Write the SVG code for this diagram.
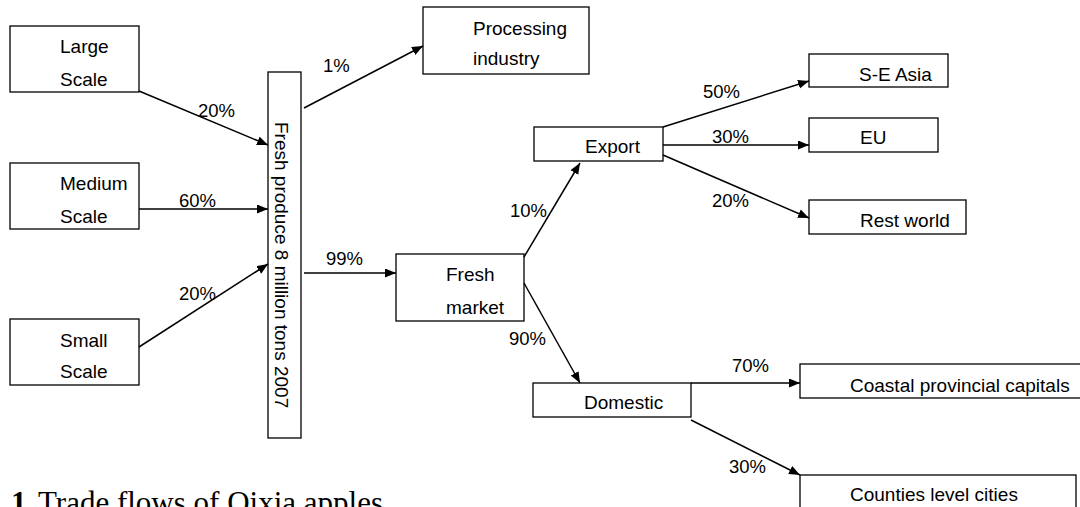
<svg xmlns="http://www.w3.org/2000/svg" width="1080" height="507" viewBox="0 0 1080 507">
<style>
  .box { fill: #fff; stroke: #000; stroke-width: 1.3; }
  .t { font-family: "Liberation Sans", Arial, sans-serif; font-size: 19px; fill: #000; }
  .lbl { font-family: "Liberation Sans", Arial, sans-serif; font-size: 18.5px; fill: #000; }
  .edge { stroke: #000; stroke-width: 1.5; fill: none; marker-end: url(#ah); }
  .cap { font-family: "Liberation Serif", "Times New Roman", serif; font-size: 31px; fill: #000; }
</style>
<defs>
  <marker id="ah" markerUnits="userSpaceOnUse" markerWidth="12" markerHeight="10" refX="11" refY="4.5" orient="auto">
    <path d="M0,0 L11,4.5 L0,9 z" fill="#000"/>
  </marker>
</defs>
<rect width="1080" height="507" fill="#fff"/>

<g id="large">
  <rect class="box" x="10" y="26" width="129" height="66"/>
  <text class="t" x="60" y="53">Large</text>
  <text class="t" x="60" y="86">Scale</text>
</g>
<g id="medium">
  <rect class="box" x="10" y="163" width="129" height="66"/>
  <text class="t" x="60" y="190">Medium</text>
  <text class="t" x="60" y="223">Scale</text>
</g>
<g id="small">
  <rect class="box" x="10" y="319" width="129" height="66"/>
  <text class="t" x="60" y="347">Small</text>
  <text class="t" x="60" y="378">Scale</text>
</g>
<g id="fresh-produce">
  <rect class="box" x="268" y="72" width="33" height="366"/>
  <text class="t" transform="translate(275,122) rotate(90)">Fresh produce 8 million tons 2007</text>
</g>
<g id="processing">
  <rect class="box" x="423" y="7" width="166" height="67"/>
  <text class="t" x="473" y="35">Processing</text>
  <text class="t" x="473" y="65">industry</text>
</g>
<g id="fresh-market">
  <rect class="box" x="396" y="254" width="128" height="67"/>
  <text class="t" x="446" y="281">Fresh</text>
  <text class="t" x="446" y="314">market</text>
</g>
<g id="export">
  <rect class="box" x="534" y="127" width="129" height="34"/>
  <text class="t" x="585" y="153">Export</text>
</g>
<g id="se-asia">
  <rect class="box" x="809" y="54" width="139" height="33"/>
  <text class="t" x="859" y="80.5">S-E Asia</text>
</g>
<g id="eu">
  <rect class="box" x="809" y="118" width="129" height="34"/>
  <text class="t" x="860" y="144">EU</text>
</g>
<g id="rest-world">
  <rect class="box" x="809" y="200" width="157" height="34"/>
  <text class="t" x="860" y="227">Rest world</text>
</g>
<g id="domestic">
  <rect class="box" x="533" y="383" width="158" height="34"/>
  <text class="t" x="584" y="409">Domestic</text>
</g>
<g id="coastal">
  <rect class="box" x="800" y="364" width="290" height="34"/>
  <text class="t" x="850" y="391.5">Coastal provincial capitals</text>
</g>
<g id="counties">
  <rect class="box" x="800" y="475" width="276" height="40"/>
  <text class="t" x="850" y="501">Counties level cities</text>
</g>

<g id="connectors">
  <line class="edge" x1="139" y1="91" x2="268" y2="145"/>
  <line class="edge" x1="139" y1="209" x2="268" y2="209"/>
  <line class="edge" x1="139" y1="347" x2="268" y2="264"/>
  <line class="edge" x1="304" y1="108" x2="423" y2="46"/>
  <line class="edge" x1="304" y1="273" x2="396" y2="273"/>
  <line class="edge" x1="524" y1="257" x2="580" y2="163"/>
  <line class="edge" x1="524" y1="283" x2="580" y2="383"/>
  <line class="edge" x1="663" y1="127" x2="809" y2="81"/>
  <line class="edge" x1="663" y1="145" x2="809" y2="145"/>
  <line class="edge" x1="663" y1="155" x2="809" y2="218"/>
  <line class="edge" x1="691" y1="383" x2="800" y2="383"/>
  <line class="edge" x1="691" y1="420" x2="800" y2="475"/>
</g>

<g id="labels">
  <text class="lbl" x="198" y="117">20%</text>
  <text class="lbl" x="179" y="207">60%</text>
  <text class="lbl" x="179" y="300">20%</text>
  <text class="lbl" x="323" y="72">1%</text>
  <text class="lbl" x="326" y="265">99%</text>
  <text class="lbl" x="510" y="217">10%</text>
  <text class="lbl" x="509" y="345">90%</text>
  <text class="lbl" x="703" y="98">50%</text>
  <text class="lbl" x="712" y="143">30%</text>
  <text class="lbl" x="712" y="207">20%</text>
  <text class="lbl" x="732" y="372">70%</text>
  <text class="lbl" x="729" y="473">30%</text>
</g>

<g id="caption">
  <text class="cap" x="11" y="513" font-weight="bold">1.</text>
  <text class="cap" x="38" y="513">Trade flows of Qixia apples</text>
</g>
</svg>
